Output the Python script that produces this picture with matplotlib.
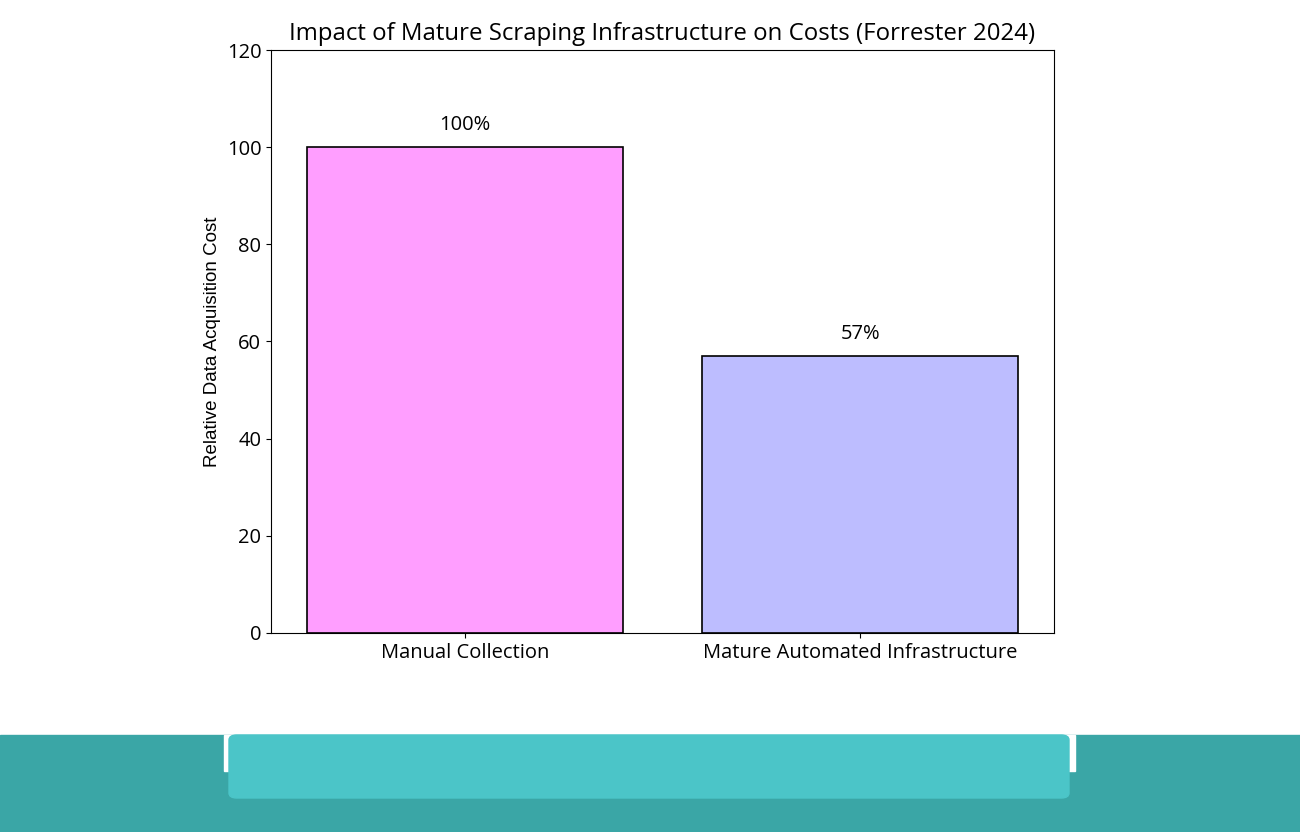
import matplotlib.pyplot as plt
from matplotlib.patches import Rectangle, FancyBboxPatch

plt.rcParams['font.family'] = ['Open Sans', 'DejaVu Sans']

categories = ["Manual Collection", "Mature Automated Infrastructure"]
cost_values = [100, 57]
bar_labels = ["100%", "57%"]
bar_colors = ["#ff9eff", "#bdbdff"]

fig = plt.figure(figsize=(13, 8.32), dpi=100)
ax = fig.add_axes([0.2085, 0.2392, 0.6023, 0.7007])

bars = ax.bar(categories, cost_values, width=0.8, color=bar_colors, edgecolor="black", linewidth=1.2)
for b, lab in zip(bars, bar_labels):
    ax.text(b.get_x() + b.get_width() / 2, b.get_height() + 2.5, lab,
            ha="center", va="bottom", fontsize=14.5)

ax.set_ylim(0, 120)
ax.set_title("Impact of Mature Scraping Infrastructure on Costs (Forrester 2024)", fontsize=17.3, pad=7)
ax.set_ylabel("Relative Data Acquisition Cost", fontsize=13.5, family=['Liberation Sans', 'DejaVu Sans'])
ax.tick_params(labelsize=14.5)

# teal band at the bottom of the page
fig.patches.append(Rectangle((0, 0), 1, 97 / 832, transform=fig.transFigure,
                             color="#3aa6a6", zorder=0))
fig.patches.append(Rectangle((224 / 1300, 61 / 832), 851 / 1300, 36 / 832, transform=fig.transFigure,
                             color="white", zorder=1))
fig.patches.append(FancyBboxPatch((229 / 1300, 34 / 832), 840 / 1300, 63 / 832,
                                  boxstyle="round,pad=0,rounding_size=0.006",
                                  transform=fig.transFigure, color="#4bc5c8", zorder=2))

fig.savefig("out.png", dpi=100)
